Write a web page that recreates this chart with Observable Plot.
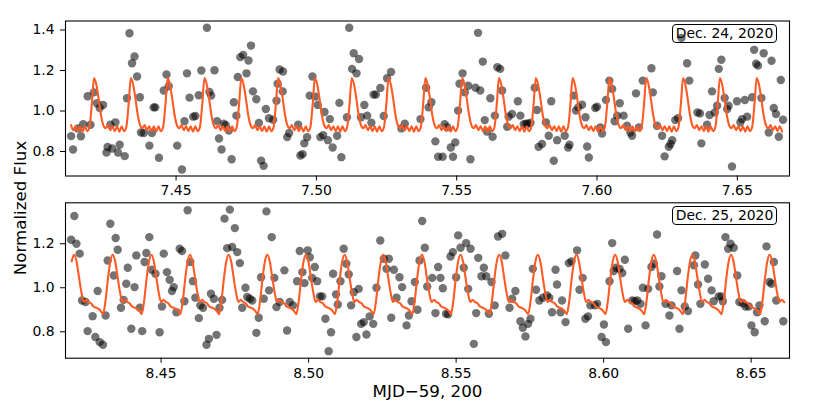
<!DOCTYPE html>
<html><head><meta charset="utf-8">
<script src="https://cdn.jsdelivr.net/npm/d3@7"></script>
<script src="https://cdn.jsdelivr.net/npm/@observablehq/plot@0.6"></script>
<style>
body{margin:0;background:#fff;}
#fig{position:relative;width:814px;height:407px;font-family:"DejaVu Sans",sans-serif;background:#fff;overflow:hidden;}
#fig svg{position:absolute;left:0;}
.tag{position:absolute;left:672px;width:105px;height:19px;box-sizing:border-box;border:1.2px solid #000;border-radius:4px;font-size:13.9px;line-height:16.5px;text-align:center;white-space:nowrap;color:#000;}
.ylab{position:absolute;left:20px;top:208px;transform:translate(-50%,-50%) rotate(-90deg);font-size:16.7px;white-space:nowrap;line-height:1;color:#000;}
</style></head><body><div id="fig"></div>
<script>
// ---------- Dec. 24 panel: observed points ----------
const topTime = [
7.4126,7.4133,7.4150,7.4161,7.4169,7.4185,7.4195,7.4207,7.4218,7.4228,
7.4240,7.4252,7.4256,7.4266,7.4272,7.4284,7.4293,7.4299,7.4317,7.4325,
7.4334,7.4343,7.4352,7.4361,7.4371,7.4375,7.4385,7.4405,7.4414,7.4420,
7.4426,7.4439,7.4456,7.4466,7.4474,7.4504,7.4521,7.4530,7.4539,7.4548,
7.4561,7.4569,7.4581,7.4590,7.4610,7.4619,7.4625,7.4637,7.4646,7.4653,
7.4662,7.4670,7.4677,7.4688,7.4698,7.4706,7.4715,7.4720,7.4729,7.4739,
7.4751,7.4758,7.4767,7.4774,7.4786,7.4795,7.4803,7.4812,7.4820,7.4831,
7.4846,7.4858,7.4862,7.4869,7.4880,7.4881,7.4896,7.4903,7.4935,7.4943,
7.4951,7.4957,7.4967,7.4976,7.4986,7.4997,7.5005,7.5014,7.5024,7.5029,
7.5041,7.5048,7.5058,7.5074,7.5082,7.5089,7.5109,7.5117,7.5127,7.5133,
7.5143,7.5152,7.5159,7.5171,7.5181,7.5196,7.5204,7.5212,7.5228,7.5240,
7.5252,7.5266,7.5303,7.5315,
7.5371,7.5391,7.5400,7.5410,7.5424,7.5434,7.5450,7.5457,7.5466,7.5479,
7.5487,7.5495,7.5505,7.5510,7.5521,7.5529,7.5541,7.5549,7.5567,7.5576,
7.5584,7.5593,7.5600,7.5608,7.5620,7.5628,7.5636,7.5645,7.5655,7.5662,
7.5680,7.5685,7.5697,7.5718,7.5727,7.5739,7.5747,7.5754,7.5763,7.5778,
7.5786,7.5792,7.5804,7.5818,7.5828,7.5837,7.5846,7.5858,7.5885,7.5897,
7.5902,7.5917,7.5925,7.5933,7.5947,7.5959,7.5965,7.5971,7.5994,7.6000,
7.6012,7.6018,7.6032,7.6044,7.6054,7.6063,7.6072,7.6081,7.6095,7.6107,
7.6119,7.6125,7.6139,7.6149,7.6163,7.6194,7.6199,7.6214,7.6232,7.6241,
7.6256,7.6262,7.6268,7.6279,7.6289,7.6301,7.6321,7.6329,7.6358,7.6367,
7.6372,7.6392,7.6401,7.6410,7.6420,7.6428,7.6434,7.6443,7.6455,7.6464,
7.6469,7.6481,7.6499,7.6511,7.6517,7.6527,7.6535,7.6553,7.6560,7.6567,
7.6574,7.6586,7.6594,7.6612,7.6622,7.6630,7.6638,7.6648,7.6655,7.6663
];
const topFlux = [
0.876,0.810,0.914,0.875,0.935,1.073,0.932,1.092,1.038,1.015,
1.030,0.795,0.822,0.932,0.815,0.944,0.795,0.833,0.777,1.063,
1.384,1.236,1.269,1.170,1.068,0.894,0.891,0.829,0.891,1.018,
1.018,0.769,1.101,1.180,1.122,0.829,0.711,0.949,1.186,1.066,
0.972,0.975,1.078,1.200,1.411,1.094,1.076,1.201,0.950,0.864,
0.810,0.937,0.930,0.904,0.762,1.043,0.977,1.168,1.266,1.277,
1.186,1.249,1.323,1.097,1.058,0.941,0.755,0.729,1.010,0.964,
0.957,1.051,1.135,1.205,1.097,1.195,0.871,0.891,0.932,0.780,
0.787,0.840,0.870,1.076,1.170,1.071,1.030,0.871,0.881,0.995,
0.856,0.960,0.820,0.878,1.040,0.772,0.969,1.411,1.208,1.285,
1.186,1.257,0.969,1.030,0.977,0.942,1.081,1.081,1.114,0.975,
1.162,1.193,0.914,0.937,
0.960,1.115,1.018,1.043,0.850,0.774,0.774,0.935,0.920,0.820,
0.774,0.845,1.002,1.135,1.186,1.092,1.125,0.762,1.115,1.386,
1.101,1.244,0.955,0.898,1.063,0.873,0.977,1.216,1.208,1.101,
0.922,0.972,0.985,1.048,0.977,0.935,0.937,0.937,0.942,1.115,
1.005,0.823,0.837,0.944,0.878,1.048,0.754,0.856,0.878,0.820,
0.833,1.076,1.002,1.018,1.031,0.969,0.825,0.770,1.015,1.021,
0.919,0.889,1.055,1.150,1.109,0.949,0.977,1.038,0.977,0.927,
0.894,0.878,1.087,0.919,1.150,1.211,1.092,0.927,0.878,0.776,
0.823,0.837,0.856,0.955,0.965,1.361,1.236,1.150,0.993,0.988,
0.840,0.932,0.980,1.097,0.993,1.026,1.208,1.253,1.064,1.010,
1.026,0.726,1.048,0.944,0.960,1.054,0.972,1.068,1.302,1.233,
1.224,1.064,1.285,0.894,1.248,1.015,0.985,0.873,1.153,0.957
];

// ---------- Dec. 24 panel: model curve (regular sampling) ----------
const topModelStart = 7.41258;
const topModelStep = 0.00081994;
const topModelFlux = [
0.93,0.905,0.925,0.90,0.925,0.898,0.925,0.90,0.92,1.03,
1.163,1.13,1.06,0.98,0.93,0.915,0.93,0.905,0.925,0.90,0.925,0.898,0.925,0.90,0.92,1.03,
1.163,1.13,1.06,0.98,0.93,0.915,0.93,0.905,0.925,0.90,0.925,0.898,0.925,0.90,0.92,1.03,
1.163,1.13,1.06,0.98,0.93,0.915,0.93,0.905,0.925,0.90,0.925,0.898,0.925,0.90,0.92,1.03,
1.163,1.13,1.06,0.98,0.93,0.915,0.93,0.905,0.925,0.90,0.925,0.898,0.925,0.90,0.92,1.03,
1.163,1.13,1.06,0.98,0.93,0.915,0.93,0.905,0.925,0.90,0.925,0.898,0.925,0.90,0.92,1.03,
1.163,1.13,1.06,0.98,0.93,0.915,0.93,0.905,0.925,0.90,0.925,0.898,0.925,0.90,0.92,1.03,
1.163,1.13,1.06,0.98,0.93,0.915,0.93,0.905,0.925,0.90,0.925,0.898,0.925,0.90,0.92,1.03,
1.163,1.13,1.06,0.98,0.93,0.915,0.93,0.905,0.925,0.90,0.925,0.898,0.925,0.90,0.92,1.03,
1.163,1.13,1.06,0.98,0.93,0.915,0.93,0.905,0.925,0.90,0.925,0.898,0.925,0.90,0.92,1.03,
1.163,1.13,1.06,0.98,0.93,0.915,0.93,0.905,0.925,0.90,0.925,0.898,0.925,0.90,0.92,1.03,
1.163,1.13,1.06,0.98,0.93,0.915,0.93,0.905,0.925,0.90,0.925,0.898,0.925,0.90,0.92,1.03,
1.163,1.13,1.06,0.98,0.93,0.915,0.93,0.905,0.925,0.90,0.925,0.898,0.925,0.90,0.92,1.03,
1.163,1.13,1.06,0.98,0.93,0.915,0.93,0.905,0.925,0.90,0.925,0.898,0.925,0.90,0.92,1.03,
1.163,1.13,1.06,0.98,0.93,0.915,0.93,0.905,0.925,0.90,0.925,0.898,0.925,0.90,0.92,1.03,
1.163,1.13,1.06,0.98,0.93,0.915,0.93,0.905,0.925,0.90,0.925,0.898,0.925,0.90,0.92,1.03,
1.163,1.13,1.06,0.98,0.93,0.915,0.93,0.905,0.925,0.90,0.925,0.898,0.925,0.90,0.92,1.03,
1.163,1.13,1.06,0.98,0.93,0.915,0.93,0.905,0.925,0.90,0.925,0.898,0.925,0.90,0.92,1.03,
1.163,1.13,1.06,0.98,0.93,0.915,0.93,0.905,0.925,0.90,0.925,0.898,0.925,0.90,0.92,1.03,
1.163,1.13,1.06,0.98,0.93,0.915,0.93,0.905,0.925,0.90,0.925,0.898
];

// ---------- Dec. 25 panel: observed points ----------
const botTime = [
8.4195,8.4206,8.4213,8.4224,8.4232,8.4244,8.4251,8.4268,8.4277,8.4285,
8.4292,8.4303,8.4312,8.4319,8.4328,8.4340,8.4346,8.4353,8.4364,8.4373,
8.4382,8.4387,8.4399,8.4410,8.4416,8.4428,8.4436,8.4444,8.4450,8.4460,
8.4469,8.4481,8.4495,8.4503,8.4509,8.4520,8.4529,8.4537,8.4543,8.4552,
8.4563,8.4571,8.4579,8.4590,8.4599,8.4608,8.4616,8.4628,8.4633,8.4642,
8.4654,8.4662,8.4669,8.4679,8.4688,8.4698,8.4707,8.4715,8.4724,8.4733,
8.4741,8.4750,8.4758,8.4767,8.4775,8.4786,8.4792,8.4801,8.4809,8.4823,
8.4831,8.4839,8.4848,8.4857,8.4866,8.4875,8.4884,8.4891,8.4902,8.4918,
8.4927,8.4936,8.4947,8.4961,8.4970,8.4979,8.4986,8.4997,8.5004,8.5012,
8.5021,8.5029,8.5038,8.5046,8.5057,8.5068,8.5076,8.5083,8.5093,8.5099,
8.5108,8.5119,8.5128,8.5136,8.5144,8.5153,8.5162,8.5170,8.5178,8.5187,
8.5196,8.5207,8.5219,8.5230,8.5243,8.5255,8.5264,8.5272,8.5280,8.5289,
8.5298,8.5308,8.5317,8.5332,8.5340,
8.5349,8.5360,8.5369,8.5376,8.5385,8.5394,8.5402,8.5419,8.5430,8.5439,
8.5447,8.5455,8.5466,8.5473,8.5481,8.5489,8.5500,8.5507,8.5515,8.5526,
8.5534,8.5541,8.5549,8.5560,8.5568,8.5575,8.5586,8.5594,8.5602,8.5611,
8.5620,8.5631,8.5642,8.5656,8.5667,8.5681,8.5690,8.5701,8.5718,8.5726,
8.5735,8.5744,8.5752,8.5760,8.5771,8.5782,8.5794,8.5808,8.5816,8.5825,
8.5837,8.5842,8.5854,8.5859,8.5871,8.5882,8.5891,8.5910,8.5918,8.5929,
8.5938,8.5947,8.5955,8.5970,8.5978,8.5993,8.6001,8.6008,8.6020,8.6029,
8.6034,8.6042,8.6054,8.6063,8.6072,8.6083,8.6097,8.6106,8.6114,8.6125,
8.6133,8.6142,8.6151,8.6162,8.6170,8.6181,8.6189,8.6196,8.6210,8.6223,
8.6230,8.6249,8.6257,8.6264,8.6275,8.6286,8.6306,8.6311,8.6320,8.6328,
8.6343,8.6354,8.6366,8.6373,8.6390,8.6399,8.6404,8.6413,8.6422,8.6430,
8.6441,8.6453,8.6460,8.6472,8.6481,8.6492,8.6501,8.6512,8.6520,8.6528,
8.6546,8.6552,8.6562,8.6569,8.6577,8.6585,8.6609
];
const botFlux = [
1.218,1.326,1.200,1.155,0.942,0.935,0.803,0.871,0.776,0.985,
0.753,0.741,0.874,1.124,1.291,1.056,1.226,1.173,0.909,0.945,
1.018,1.091,0.814,1.003,1.147,0.909,0.803,1.117,1.158,1.230,
1.082,1.064,0.798,0.915,1.155,1.071,1.036,0.985,1.003,0.889,
1.177,1.167,0.939,1.352,1.117,1.030,0.955,0.862,0.920,0.909,
0.741,0.768,0.973,0.950,0.786,0.909,0.945,1.314,1.180,1.355,
1.185,1.271,1.162,1.112,0.909,1.000,0.958,0.950,0.942,0.795,
0.864,1.048,0.950,1.347,0.988,1.230,1.045,0.912,0.935,1.079,
0.806,0.935,0.920,1.030,1.167,1.071,1.021,1.170,1.139,1.045,
1.094,1.030,0.961,0.961,0.859,0.712,0.798,1.064,0.970,0.924,
1.030,1.177,1.109,1.061,0.920,0.980,0.776,0.995,0.836,0.844,
0.788,0.870,0.836,1.000,1.215,1.132,1.086,1.132,0.864,1.082,
0.955,1.048,1.003,0.829,0.874,
0.939,1.026,0.900,1.124,1.303,1.182,1.006,1.045,0.885,1.094,
1.045,0.998,0.882,0.879,1.142,1.162,1.048,1.238,1.182,1.091,
1.203,0.995,1.177,0.745,0.885,1.136,1.052,1.091,1.052,0.882,
1.026,0.920,1.233,1.245,1.147,0.909,0.950,0.985,0.848,0.818,
0.779,0.836,0.859,1.086,0.991,0.942,0.955,0.965,0.955,0.889,
1.082,1.015,0.889,0.942,0.844,1.112,1.120,1.170,0.991,1.045,
0.859,0.870,0.920,0.920,0.927,0.776,0.833,0.753,1.030,1.203,
1.076,1.091,1.086,1.067,1.127,0.814,0.942,0.939,0.942,0.927,
1.000,0.829,0.995,1.094,1.109,1.242,1.006,1.052,0.927,0.874,
0.920,1.076,0.814,0.988,0.915,0.894,1.102,1.147,1.015,0.927,
1.106,1.041,0.988,0.939,0.961,0.961,0.939,1.230,1.177,1.200,
1.182,1.056,0.935,0.930,0.915,0.915,0.829,0.798,0.889,0.920,
0.848,1.188,1.026,1.018,1.117,0.942,0.848
];

// ---------- Dec. 25 panel: model curve (regular sampling) ----------
const botModelStart = 8.419698;
const botModelStep = 0.00081869;
const botModelFlux = [
1.12,
1.15,1.12,1.05,0.98,0.935,0.945,0.935,0.93,0.915,0.91,0.905,0.895,0.88,0.94,1.04,1.12,
1.15,1.12,1.05,0.98,0.935,0.945,0.935,0.93,0.915,0.91,0.905,0.895,0.88,0.94,1.04,1.12,
1.15,1.12,1.05,0.98,0.935,0.945,0.935,0.93,0.915,0.91,0.905,0.895,0.88,0.94,1.04,1.12,
1.15,1.12,1.05,0.98,0.935,0.945,0.935,0.93,0.915,0.91,0.905,0.895,0.88,0.94,1.04,1.12,
1.15,1.12,1.05,0.98,0.935,0.945,0.935,0.93,0.915,0.91,0.905,0.895,0.88,0.94,1.04,1.12,
1.15,1.12,1.05,0.98,0.935,0.945,0.935,0.93,0.915,0.91,0.905,0.895,0.88,0.94,1.04,1.12,
1.15,1.12,1.05,0.98,0.935,0.945,0.935,0.93,0.915,0.91,0.905,0.895,0.88,0.94,1.04,1.12,
1.15,1.12,1.05,0.98,0.935,0.945,0.935,0.93,0.915,0.91,0.905,0.895,0.88,0.94,1.04,1.12,
1.15,1.12,1.05,0.98,0.935,0.945,0.935,0.93,0.915,0.91,0.905,0.895,0.88,0.94,1.04,1.12,
1.15,1.12,1.05,0.98,0.935,0.945,0.935,0.93,0.915,0.91,0.905,0.895,0.88,0.94,1.04,1.12,
1.15,1.12,1.05,0.98,0.935,0.945,0.935,0.93,0.915,0.91,0.905,0.895,0.88,0.94,1.04,1.12,
1.15,1.12,1.05,0.98,0.935,0.945,0.935,0.93,0.915,0.91,0.905,0.895,0.88,0.94,1.04,1.12,
1.15,1.12,1.05,0.98,0.935,0.945,0.935,0.93,0.915,0.91,0.905,0.895,0.88,0.94,1.04,1.12,
1.15,1.12,1.05,0.98,0.935,0.945,0.935,0.93,0.915,0.91,0.905,0.895,0.88,0.94,1.04,1.12,
1.15,1.12,1.05,0.98,0.935,0.945,0.935,0.93,0.915,0.91,0.905,0.895,0.88,0.94,1.04,1.12,
1.15,1.12,1.05,0.98,0.935,0.945,0.935,0.93,0.915,0.91,0.905,0.895,0.88,0.94,1.04,1.12,
1.15,1.12,1.05,0.98,0.935,0.945,0.935,0.93,0.915,0.91,0.905,0.895,0.88,0.94,1.04,1.12,
1.15,1.12,1.05,0.98,0.935,0.945,0.935,0.93,0.915,0.91,0.905,0.895,0.88,0.94,1.04,1.12,
1.15,1.12,1.05,0.98,0.935,0.945,0.935
];

// ---------- axes / labels ----------
const topXDomain = [7.4106, 7.6686];
const topYDomain = [0.679, 1.4444];
const topXTicks = [7.45, 7.50, 7.55, 7.60, 7.65];
const topYTicks = [0.8, 1.0, 1.2, 1.4];
const botXDomain = [8.4176, 8.6630];
const botYDomain = [0.680, 1.386];
const botXTicks = [8.45, 8.50, 8.55, 8.60, 8.65];
const botYTicks = [0.8, 1.0, 1.2];
const panelTags = ["Dec. 24, 2020", "Dec. 25, 2020"];
const yAxisLabel = "Normalized Flux";
const xAxisLabel = "MJD\u221259, 200";

function panel(o) {
  const points = o.time.map((t, i) => ({t, f: o.flux[i]}));
  const model = o.modelFlux.map((f, i) => ({t: o.modelStart + i * o.modelStep, f}));
  const marks = [
    Plot.dot(points, {x: "t", y: "f", r: 4.2, fill: "#000", fillOpacity: 0.55, clip: true}),
    Plot.line(model, {x: "t", y: "f", stroke: "#ff5b25", strokeWidth: 2.1, curve: "monotone-x", clip: true}),
    Plot.frame({stroke: "#000", strokeWidth: 1.1}),
    Plot.axisX({ticks: o.xTicks, tickFormat: d3.format(".2f"), tickSize: 5, tickPadding: 4.5, label: null}),
    Plot.axisY({ticks: o.yTicks, tickFormat: d3.format(".1f"), tickSize: 5, tickPadding: 6, label: null})
  ];
  if (o.xLabel) marks.push(Plot.text([o.xLabel], {frameAnchor: "bottom", text: d => d, dy: 38.5, fontSize: 16.7, fill: "#000"}));
  return Plot.plot({
    width: 814, height: o.height,
    marginLeft: 65, marginRight: 25, marginTop: o.marginTop, marginBottom: o.marginBottom,
    style: {fontFamily: "DejaVu Sans", fontSize: "13.9px", background: "transparent", color: "#000", overflow: "visible"},
    x: {domain: o.xDomain}, y: {domain: o.yDomain},
    marks
  });
}

const fig = document.getElementById("fig");
const topSvg = panel({time: topTime, flux: topFlux, modelStart: topModelStart, modelStep: topModelStep, modelFlux: topModelFlux,
  xDomain: topXDomain, yDomain: topYDomain, xTicks: topXTicks, yTicks: topYTicks, height: 200, marginTop: 20.5, marginBottom: 24.5});
topSvg.style.top = "0px";
fig.appendChild(topSvg);
const botSvg = panel({time: botTime, flux: botFlux, modelStart: botModelStart, modelStep: botModelStep, modelFlux: botModelFlux,
  xDomain: botXDomain, yDomain: botYDomain, xTicks: botXTicks, yTicks: botYTicks, height: 207, marginTop: 2.3, marginBottom: 49.3, xLabel: xAxisLabel});
botSvg.style.top = "200px";
fig.appendChild(botSvg);

const tagTops = [24, 206];
panelTags.forEach((s, i) => {
  const d = document.createElement("div");
  d.className = "tag"; d.style.top = tagTops[i] + "px"; d.textContent = s;
  fig.appendChild(d);
});
const yl = document.createElement("div");
yl.className = "ylab"; yl.textContent = yAxisLabel;
fig.appendChild(yl);
</script></body></html>
